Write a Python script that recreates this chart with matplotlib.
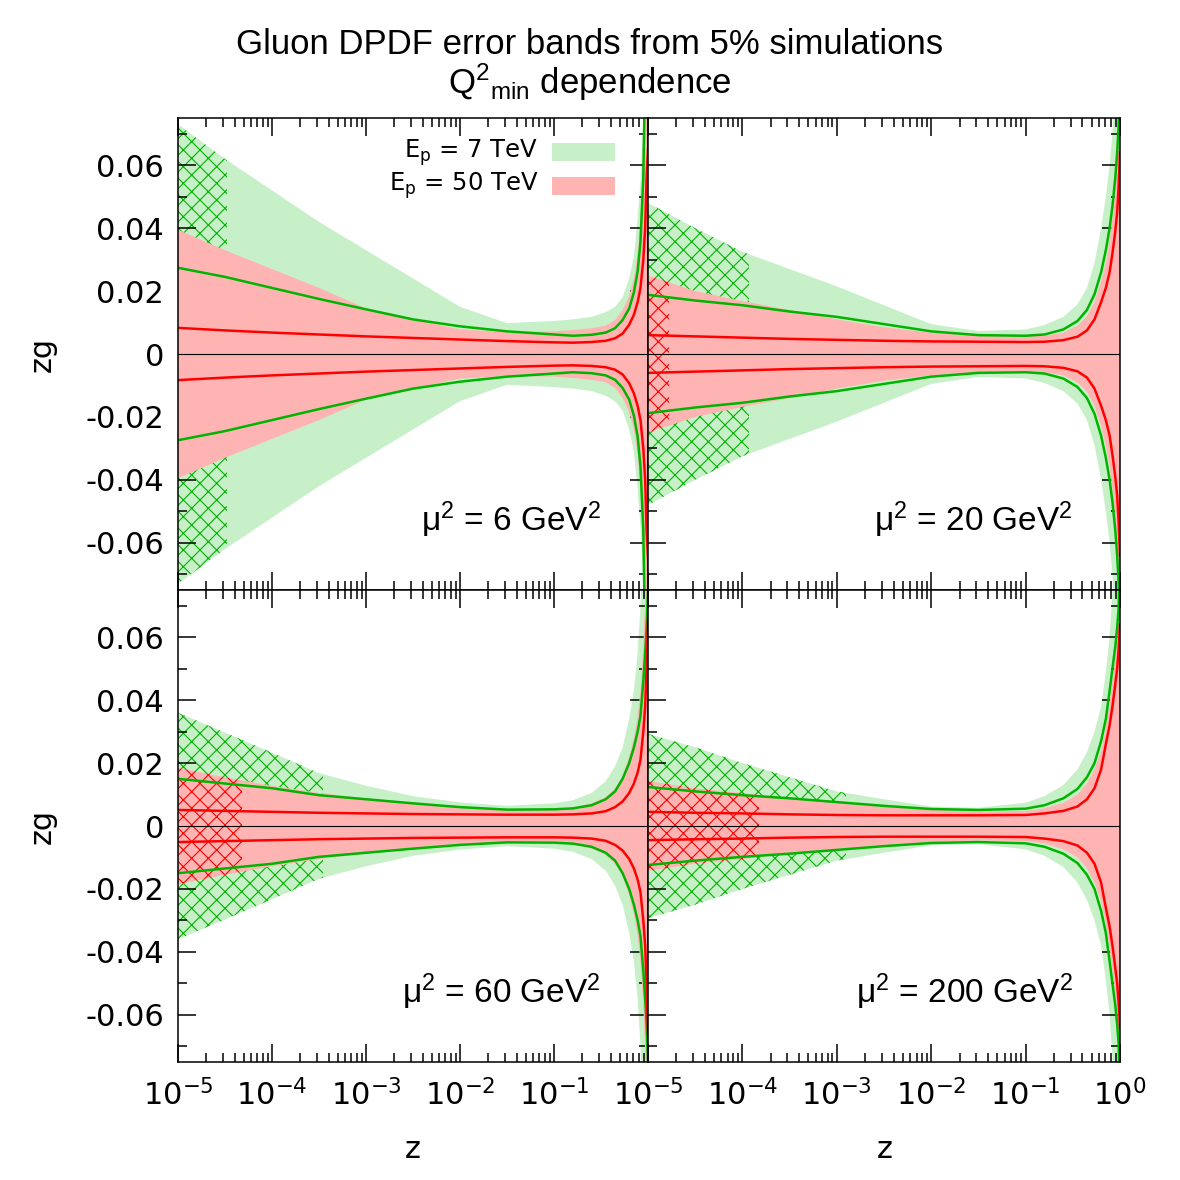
import numpy as np
import matplotlib
matplotlib.use('Agg')
import matplotlib.pyplot as plt
from matplotlib.patches import Rectangle
from matplotlib.ticker import LogLocator, MultipleLocator, FuncFormatter

plt.rcParams['font.family'] = 'DejaVu Sans'
plt.rcParams['mathtext.fontset'] = 'dejavusans'
plt.rcParams['mathtext.rm'] = 'Liberation Sans'
plt.rcParams['mathtext.it'] = 'Liberation Sans:italic'
plt.rcParams['hatch.linewidth'] = 0.8

LOGZ = [-5, -4.5, -4, -3.5, -3, -2.5, -2, -1.5, -1, -0.8, -0.6, -0.45, -0.35, -0.27,
        -0.2, -0.15, -0.11, -0.08, -0.05, -0.03, -0.015, 0]

MU_LABELS = ['6', '20', '60', '200']

# upper edge of the 7 TeV (green) band, per panel
GB_6 = [.073, .062, .052, .042, .033, .024, .015, .0098, .0105, .011, .0118, .0133, .015, .018,
        .024, .031, .043, .055, .073, .10, .17, .35]
GB_20 = [.048, .040, .0325, .027, .0215, .0155, .0095, .0073, .0078, .0092, .0118, .0158, .021, .029,
         .040, .050, .060, .070, .088, .10, .12, .2]
GB_60 = [.036, .0297, .0233, .0168, .0128, .0095, .0075, .0064, .0072, .0082, .0105, .0142, .019, .025,
         .034, .043, .055, .070, .09, .12, .18, .3]
GB_200 = [.0293, .025, .020, .0155, .011, .0085, .0062, .0058, .0074, .0095, .013, .018, .0235, .030,
          .038, .049, .060, .074, .09, .11, .14, .2]

# upper edge of the 50 TeV (red) band
RB_6 = [.0395, .033, .027, .021, .0145, .011, .0078, .007, .0072, .0076, .0082, .009, .0108, .014,
        .0185, .024, .032, .042, .062, .09, .15, .3]
RB_20 = [.025, .020, .0168, .014, .011, .0085, .0068, .006, .0056, .0058, .0068, .009, .012, .0165,
         .023, .029, .036, .043, .052, .060, .068, .08]
RB_60 = [.0185, .0155, .0128, .0105, .0088, .0075, .0062, .0052, .0052, .0058, .0072, .0092, .012, .016,
         .022, .028, .035, .043, .057, .072, .09, .12]
RB_200 = [.0143, .012, .0105, .0088, .0075, .0062, .0052, .0046, .0048, .0056, .0074, .010, .0135, .018,
          .024, .031, .039, .046, .053, .059, .065, .075]

# 7 TeV (green) line
GL_6 = [.0274, .0245, .021, .0175, .0142, .011, .0088, .0072, .0062, .0058, .0061, .0068, .0082, .0108,
        .0145, .0196, .0263, .0357, .056, .092, .18, .3]
GL_20 = [.0188, .017, .0155, .0135, .0118, .0095, .0072, .006, .0058, .0062, .0078, .0105, .014, .019,
         .026, .033, .040, .047, .056, .064, .072, .09]
GL_60 = [.015, .0135, .012, .0098, .0085, .0072, .006, .0052, .0053, .0056, .0066, .0085, .011, .015,
         .020, .025, .030, .035, .046, .055, .063, .075]
GL_200 = [.0124, .011, .0098, .0088, .0076, .0064, .0054, .0051, .0055, .0066, .0088, .0118, .0155, .020,
          .027, .034, .043, .050, .057, .063, .069, .085]

# 50 TeV (red) line
RL_6 = [.0083, .0075, .0068, .0062, .0056, .0051, .0046, .0041, .0037, .0036, .0038, .0042, .005, .0065,
        .0093, .0125, .0165, .021, .030, .040, .056, .065]
RL_20 = [.006, .0056, .0052, .0048, .0045, .0042, .004, .0039, .0038, .0039, .0044, .0055, .0075, .011,
         .0165, .021, .026, .032, .039, .045, .053, .064]
RL_60 = [.0051, .0048, .0045, .0042, .004, .0038, .0037, .0036, .0036, .0037, .004, .0047, .006, .0078,
         .0105, .0135, .017, .021, .030, .038, .050, .066]
RL_200 = [.0045, .0042, .004, .0037, .0035, .0034, .0034, .0034, .0035, .004, .0048, .0062, .0085, .012,
          .018, .026, .032, .038, .045, .050, .056, .064]

# z up to which the extrapolated (hatched) region reaches
GREEN_HATCH_END = [10**-4.48, 10**-3.93, 10**-3.46, 10**-2.9]
RED_HATCH_END = [None, 10**-4.78, 10**-4.32, 10**-3.82]

GREEN_BAND = '#c8f0c8'
RED_BAND = '#ffb4b4'
GREEN_LINE = '#00b400'
RED_LINE = '#ff0000'

fig = plt.figure(figsize=(11.8, 11.8), dpi=100)

boxes = [
    [178 / 1180, 0.5, 470 / 1180, 0.4],
    [648 / 1180, 0.5, 472 / 1180, 0.4],
    [178 / 1180, 0.1, 470 / 1180, 0.4],
    [648 / 1180, 0.1, 472 / 1180, 0.4],
]
panels = [
    (GB_6, RB_6, GL_6, RL_6),
    (GB_20, RB_20, GL_20, RL_20),
    (GB_60, RB_60, GL_60, RL_60),
    (GB_200, RB_200, GL_200, RL_200),
]

z = 10 ** np.array(LOGZ, dtype=float)


def yfmt(v, p):
    if abs(v) < 1e-9:
        return '0'
    return f'{v:.2f}'


def xfmt_left(v, p):
    e = int(round(np.log10(v)))
    return '' if e == 0 else r'$10^{%d}$' % e


def xfmt_right(v, p):
    e = int(round(np.log10(v)))
    return r'$10^{%d}$' % e


for i, (box, (gb, rb, gl, rl)) in enumerate(zip(boxes, panels)):
    ax = fig.add_axes(box)
    ax.set_xscale('log')
    gb, rb, gl, rl = map(np.array, (gb, rb, gl, rl))

    ax.fill_between(z, -gb, gb, facecolor=GREEN_BAND, linewidth=0, zorder=1)
    hg = ax.fill_between(z, -gb, gb, facecolor='none', edgecolor=GREEN_LINE,
                         linewidth=0, hatch='xx', zorder=1.5)
    hg.set_clip_path(Rectangle((1e-5, -0.075), GREEN_HATCH_END[i] - 1e-5, 0.15,
                               transform=ax.transData))

    ax.fill_between(z, -rb, rb, facecolor=RED_BAND, linewidth=0, zorder=2)
    if RED_HATCH_END[i] is not None:
        hr = ax.fill_between(z, -rb, rb, facecolor='none', edgecolor=RED_LINE,
                             linewidth=0, hatch='xx', zorder=2.5)
        hr.set_clip_path(Rectangle((1e-5, -0.075), RED_HATCH_END[i] - 1e-5, 0.15,
                                   transform=ax.transData))

    ax.axhline(0, color='black', linewidth=0.8, zorder=3)
    ax.plot(z, gl, color=GREEN_LINE, linewidth=1.8, zorder=4)
    ax.plot(z, -gl, color=GREEN_LINE, linewidth=1.8, zorder=4)
    ax.plot(z, rl, color=RED_LINE, linewidth=1.8, zorder=5)
    ax.plot(z, -rl, color=RED_LINE, linewidth=1.8, zorder=5)

    ax.set_xlim(1e-5, 1)
    ax.set_ylim(-0.075, 0.075)
    ax.xaxis.set_major_locator(LogLocator(base=10, numticks=10))
    ax.xaxis.set_minor_locator(LogLocator(base=10, subs=np.arange(2, 10), numticks=30))
    ax.yaxis.set_major_locator(MultipleLocator(0.02))
    ax.yaxis.set_minor_locator(MultipleLocator(0.01))
    ax.tick_params(which='both', direction='in', top=True, right=True,
                   width=1.1, labelsize=22)
    ax.tick_params(which='major', length=13)
    ax.tick_params(which='minor', length=6.5)
    ax.tick_params(axis='x', pad=12)
    ax.tick_params(axis='y', pad=10)
    for s in ax.spines.values():
        s.set_linewidth(1.1)
        s.set_zorder(6)

    if i in (0, 2):
        ax.yaxis.set_major_formatter(FuncFormatter(yfmt))
    else:
        ax.tick_params(labelleft=False)
    if i in (0, 1):
        ax.tick_params(labelbottom=False)
    elif i == 2:
        ax.xaxis.set_major_formatter(FuncFormatter(xfmt_left))
    else:
        ax.xaxis.set_major_formatter(FuncFormatter(xfmt_right))
    ax.xaxis.set_minor_formatter(FuncFormatter(lambda v, p: ''))

    ax.text(0.9, 0.148, 'μ$^{2}$ = %s GeV$^{2}$' % MU_LABELS[i], transform=ax.transAxes,
            ha='right', va='center', fontsize=24, fontfamily='Liberation Sans',
            math_fontfamily='custom', zorder=7)

    if i == 0:
        for lab, col, yc in [('E$_\\mathrm{p}$ = 7 TeV', GREEN_BAND, 0.927),
                             ('E$_\\mathrm{p}$ = 50 TeV', RED_BAND, 0.856)]:
            ax.text(0.766, yc, lab, transform=ax.transAxes, ha='right', va='center',
                    fontsize=17.5, zorder=7)
            ax.add_patch(Rectangle((0.796, yc - 0.019), 0.134, 0.038, transform=ax.transAxes,
                                   facecolor=col, edgecolor='none', zorder=7))

fig.text(42 / 1180, 0.7, 'zg', rotation=90, ha='center', va='center', fontsize=22)
fig.text(42 / 1180, 0.3, 'zg', rotation=90, ha='center', va='center', fontsize=22)
fig.text(413 / 1180, 1 - 1150 / 1180, 'z', ha='center', va='center', fontsize=22)
fig.text(885 / 1180, 1 - 1150 / 1180, 'z', ha='center', va='center', fontsize=22)

fig.text(0.5, 1 - 45 / 1180, 'Gluon DPDF error bands from 5% simulations', ha='center',
         va='center', fontsize=25, fontfamily='Liberation Sans')
fig.text(0.5, 1 - 82 / 1180, 'Q$^{2}$$_{\\mathrm{min}}$ dependence', ha='center', va='center',
         fontsize=25, fontfamily='Liberation Sans', math_fontfamily='custom')

fig.savefig('out.png', dpi=100)
